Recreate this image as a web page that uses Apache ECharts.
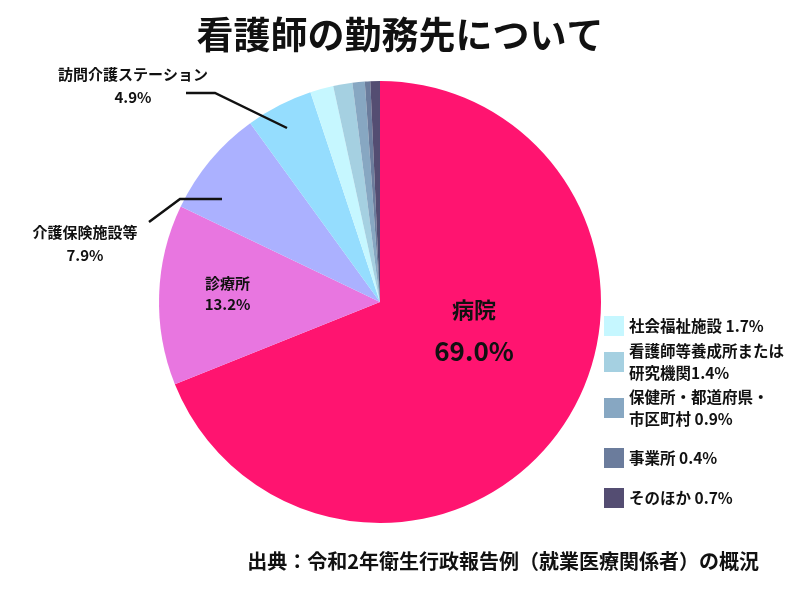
<!DOCTYPE html>
<html><head><meta charset="utf-8">
<script src="https://cdn.jsdelivr.net/npm/echarts@6/dist/echarts.min.js"></script>
<style>html,body{margin:0;padding:0;background:#fff}#c{width:800px;height:600px}</style>
</head><body><div id="c"></div>
<script>
const categories = ['病院','診療所','介護保険施設等','訪問介護ステーション','社会福祉施設','看護師等養成所または研究機関','保健所・都道府県・市区町村','事業所','そのほか'];
const values = [69.0, 13.2, 7.9, 4.9, 1.7, 1.4, 0.9, 0.4, 0.7];
const legendLabels = ['社会福祉施設 1.7%','看護師等養成所または\n研究機関1.4%','保健所・都道府県・\n市区町村 0.9%','事業所 0.4%','そのほか 0.7%'];
const colors = ['#FF1470','#E876E0','#ABB1FF','#95DDFE','#C6F7FF','#A5D0E1','#87A7C2','#6B7C9C','#544D72'];

const FONT = '"Noto Sans CJK JP","Noto Sans",sans-serif';
const chart = echarts.init(document.getElementById('c'), null, {renderer:'canvas'});

const legendTops = [315, 329, 375, 447, 487];
const legends = legendLabels.map((lab, i) => {
  const name = categories[4 + i];
  const twoLine = lab.indexOf('\n') >= 0;
  return {
    show: true, orient: 'vertical', left: 604, top: legendTops[i], padding: 0,
    itemWidth: 20, itemHeight: 20, itemGap: 0, selectedMode: false,
    icon: 'rect',
    data: [{name: name, textStyle: twoLine ? {padding: [22,0,0,0]} : {}}],
    formatter: () => lab,
    textStyle: {fontFamily: FONT, fontWeight: 'bold', fontSize: 15.5, color: '#111', lineHeight: 22, padding: [0,0,0,0]}
  };
});

const fmt = (p) => p.name + '\n' + p.value.toFixed(1) + '%';
const fmtRich = (p) => '{n|' + p.name + '}\n{v|' + p.value.toFixed(1) + '%}';

const data = categories.map((c, i) => {
  const d = {name: c, value: values[i], itemStyle: {color: colors[i]}};
  if (i === 0) {
    d.label = {show: true, position: 'inside', formatter: fmtRich,
      padding: [0,0,70,0],
      rich: {n: {fontSize: 22, fontWeight: 'bold', fontFamily: FONT, color: '#111', lineHeight: 42},
             v: {fontSize: 26, fontWeight: 'bold', fontFamily: FONT, color: '#111', lineHeight: 42}}};
  } else if (i === 1) {
    d.label = {show: true, position: 'inside', formatter: fmtRich,
      padding: [0,78,8,0],
      rich: {n: {fontSize: 15, fontWeight: 'bold', fontFamily: FONT, color: '#111', lineHeight: 21},
             v: {fontSize: 15, fontWeight: 'bold', fontFamily: FONT, color: '#111', lineHeight: 21}}};
  } else {
    d.label = {show: false};
  }
  d.labelLine = {show: false};
  return d;
});

// overlay (transparent) pie carrying the outside labels so their leader lines sit above the slices
const overlayData = categories.map((c, i) => {
  const d = {name: c, value: values[i], itemStyle: {color: 'rgba(0,0,0,0)'}};
  if (i === 2 || i === 3) {
    d.label = {show: true, position: 'outside', formatter: fmt,
      fontSize: 15, fontWeight: 'bold', fontFamily: FONT, color: '#111', lineHeight: 23, align: 'center'};
    d.labelLine = {show: true, lineStyle: {color: '#111', width: 2.5}};
  } else {
    d.label = {show: false};
    d.labelLine = {show: false};
  }
  return d;
});

const option = {
  backgroundColor: '#fff',
  animation: false,
  title: [
    {text: '看護師の勤務先について', left: 'center', top: 11,
     textStyle: {fontFamily: FONT, fontWeight: 'bold', fontSize: 37, color: '#111'}},
    {text: '出典：令和2年衛生行政報告例（就業医療関係者）の概況', right: 36, top: 546,
     textStyle: {fontFamily: FONT, fontWeight: 'bold', fontSize: 20, color: '#111'}}
  ],
  legend: legends,
  series: [{
    type: 'pie',
    z: 2,
    center: [380, 302],
    radius: 221,
    startAngle: 90,
    clockwise: true,
    data: data,
    label: {show: false},
    labelLine: {show: false},
    emphasis: {disabled: true}
  }, {
    type: 'pie',
    z: 5,
    silent: true,
    legendHoverLink: false,
    center: [380, 302],
    radius: 221,
    startAngle: 90,
    clockwise: true,
    data: overlayData,
    emphasis: {disabled: true},
    labelLayout: function (p) {
      if (p.dataIndex === 2) {
        return {x: 85, y: 244, align: 'center', verticalAlign: 'middle',
                labelLinePoints: [[222,199],[180,199],[149,222]]};
      }
      if (p.dataIndex === 3) {
        return {x: 133, y: 86, align: 'center', verticalAlign: 'middle',
                labelLinePoints: [[287,128],[215,93],[186,93]]};
      }
      return {};
    }
  }]
};
chart.setOption(option);
</script>
</body></html>
